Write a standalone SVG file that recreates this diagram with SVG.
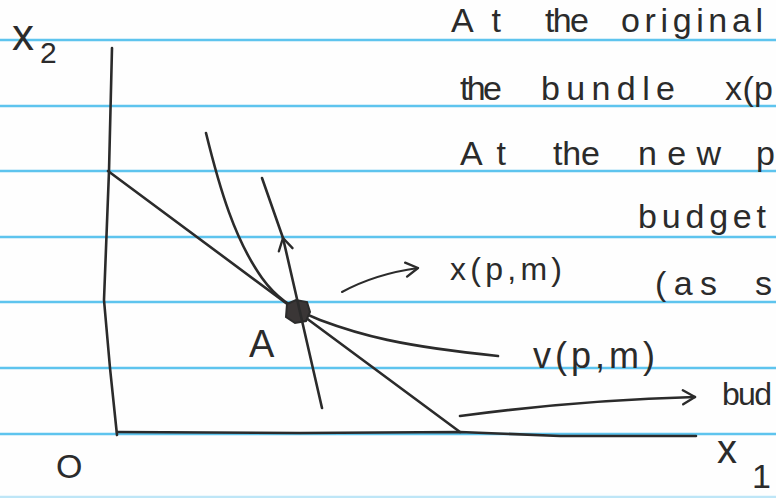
<svg xmlns="http://www.w3.org/2000/svg" width="776" height="498" viewBox="0 0 776 498">
<defs>
<style>
.rule{stroke:#5ec4ee;stroke-width:2.6;fill:none}
.ink{stroke:#2b2b2b;stroke-width:2.6;fill:none;stroke-linecap:round;stroke-linejoin:round}
.thin{stroke:#2b2b2b;stroke-width:2;fill:none;stroke-linecap:round}
.hand{font-family:"Liberation Sans","DejaVu Sans",sans-serif;fill:#2b2b2b}
</style>
<marker id="head" viewBox="-14 -9 16 18" refX="0" refY="0" markerWidth="16" markerHeight="18" markerUnits="userSpaceOnUse" orient="auto">
<path d="M-12,-7 L0,0 L-12,7" fill="none" stroke="#2b2b2b" stroke-width="2.4" stroke-linecap="round" stroke-linejoin="round"/>
</marker>
</defs>
<rect width="776" height="498" fill="#fefefe"/>
<g id="ruling">
<line class="rule" x1="0" y1="40" x2="776" y2="40"/>
<line class="rule" x1="0" y1="106" x2="776" y2="106"/>
<line class="rule" x1="0" y1="171" x2="776" y2="171"/>
<line class="rule" x1="0" y1="237" x2="776" y2="237"/>
<line class="rule" x1="0" y1="302" x2="776" y2="302"/>
<line class="rule" x1="0" y1="368" x2="776" y2="368"/>
<line class="rule" x1="0" y1="434" x2="776" y2="434"/>
<line class="rule" x1="0" y1="497" x2="776" y2="497" opacity="0.4"/>
</g>
<g id="axes">
<path class="ink" d="M112,48 L109,171 L104,300 L110,368 L117,435"/>
<path class="ink" d="M117,432 L300,433 L460,432 L560,436 L696,436"/>
<text class="hand" x="12" y="50" font-size="44">x</text>
<text class="hand" x="40" y="63" font-size="30">2</text>
<text class="hand" x="717" y="463" font-size="40">x</text>
<text class="hand" x="752" y="488" font-size="34">1</text>
<text class="hand" x="56" y="478" font-size="34">O</text>
</g>
<g id="budget-line">
<path class="ink" d="M108,171 L298,312 L460,432"/>
</g>
<g id="indifference-curve">
<path class="ink" d="M206,133 C220,190 235,240 262,278 C275,296 290,308 320,320 C360,335 400,346 498,356"/>
<text class="hand" x="533" y="368" font-size="36" textLength="122" lengthAdjust="spacing">v(p,m)</text>
</g>
<g id="point-A">
<path d="M287,304 L296,300 L307,302 L310,312 L306,321 L295,323 L286,317 Z" fill="#3a3636" stroke="#2b2b2b" stroke-width="2"/>
<text class="hand" x="249" y="357" font-size="38">A</text>
</g>
<g id="connectors">
<path class="ink" d="M322,408 L300,312 L283,238" marker-end="url(#head)"/>
<path class="ink" d="M283,238 L262,178"/>
<path class="thin" d="M342,292 Q375,274 418,268" marker-end="url(#head)"/>
<path class="ink" d="M460,416 Q580,400 695,397" marker-end="url(#head)"/>
</g>
<g id="notes" class="hand" font-size="34">
<text x="451" y="32" textLength="50" lengthAdjust="spacing">At</text>
<text x="545" y="32" textLength="44" lengthAdjust="spacing">the</text>
<text x="621" y="32" textLength="142" lengthAdjust="spacing">original</text>
<text x="460" y="100" textLength="42" lengthAdjust="spacing">the</text>
<text x="541" y="100" textLength="134" lengthAdjust="spacing">bundle</text>
<text x="725" y="100" textLength="48" lengthAdjust="spacing">x(p</text>
<text x="460" y="165" textLength="46" lengthAdjust="spacing">At</text>
<text x="553" y="165" textLength="47" lengthAdjust="spacing">the</text>
<text x="638" y="165" textLength="83" lengthAdjust="spacing">new</text>
<text x="756" y="165">p</text>
<text x="638" y="228" textLength="128" lengthAdjust="spacing">budget</text>
<text x="655" y="295" textLength="62" lengthAdjust="spacing">(as</text>
<text x="755" y="295">s</text>
<text x="722" y="405" font-size="32" textLength="50" lengthAdjust="spacing">bud</text>
<text x="450" y="280" font-size="32" textLength="112" lengthAdjust="spacing">x(p,m)</text>
</g>
</svg>
